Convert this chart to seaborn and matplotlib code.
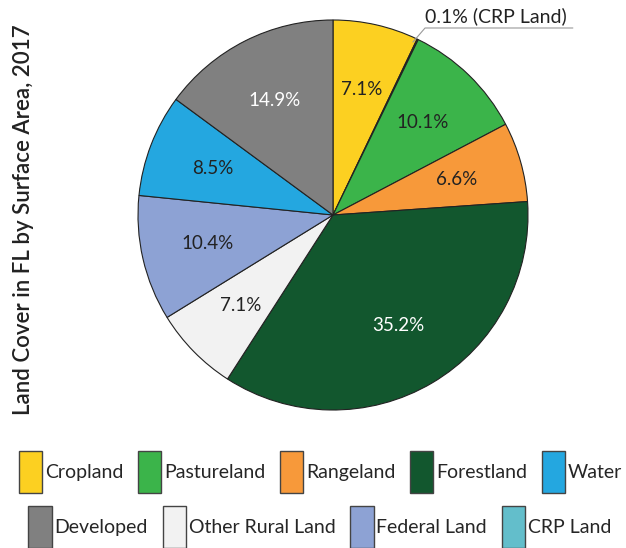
import matplotlib.pyplot as plt
import seaborn as sns
from matplotlib.patches import Patch

# slices in drawing order (clockwise from top)
labels = ['Cropland', 'CRP Land', 'Pastureland', 'Rangeland', 'Forestland',
          'Other Rural Land', 'Federal Land', 'Water', 'Developed']
shares = [7.1, 0.1, 10.1, 6.6, 35.2, 7.1, 10.4, 8.5, 14.9]
colors = {'Cropland': '#fcd021', 'Pastureland': '#3bb44a', 'Rangeland': '#f7993a',
          'Forestland': '#12572e', 'Water': '#24a7e0', 'Developed': '#808080',
          'Other Rural Land': '#f2f2f2', 'Federal Land': '#8da2d4', 'CRP Land': '#63becb'}
legend_row1 = ['Cropland', 'Pastureland', 'Rangeland', 'Forestland', 'Water']
legend_row2 = ['Developed', 'Other Rural Land', 'Federal Land', 'CRP Land']
white_text = ['Forestland', 'Developed']

sns.set_theme(style='white')
plt.rcParams['font.family'] = ['Lato', 'DejaVu Sans']

fig = plt.figure(figsize=(6.26, 5.48), dpi=100)
ax = fig.add_axes([138 / 626, 138 / 548, 390 / 626, 390 / 548])

wedges, texts, autotexts = ax.pie(
    shares, colors=[colors[l] for l in labels], startangle=90, counterclock=False,
    autopct='%.1f%%', pctdistance=0.66,
    wedgeprops=dict(edgecolor='#222222', linewidth=0.8),
    textprops=dict(fontsize=13.5, color='#222222'))
ax.set_aspect('equal')
ax.set_xlim(-1, 1)
ax.set_ylim(-1, 1)

for lab, t in zip(labels, autotexts):
    if lab == 'CRP Land':
        t.set_text('')
    elif lab in white_text:
        t.set_color('white')

# callout for the tiny CRP slice
ax.plot([0.41, 0.472, 1.23], [0.887, 0.959, 0.959], color='#999999', lw=0.8, clip_on=False)
ax.text(0.472, 0.975, '0.1% (CRP Land)', fontsize=14, color='#222222',
        ha='left', va='bottom', clip_on=False)

fig.text(0.038, 0.6, 'Land Cover in FL by Surface Area, 2017', rotation=90,
         ha='center', va='center', fontsize=16, fontweight='semibold', color='#222222')


def make_handles(names):
    return [Patch(facecolor=colors[n], edgecolor='#444444', label=n) for n in names]


legend_style = dict(frameon=False, fontsize=14, handlelength=1.2, handleheight=3.0,
                    handletextpad=0.15, columnspacing=0.75, loc='center')
fig.legend(handles=make_handles(legend_row1), ncol=5,
           bbox_to_anchor=(0.512, 1 - 472 / 548), **legend_style)
fig.legend(handles=make_handles(legend_row2), ncol=4,
           bbox_to_anchor=(0.511, 1 - 527 / 548), **legend_style)

fig.savefig('out.png', dpi=100)
